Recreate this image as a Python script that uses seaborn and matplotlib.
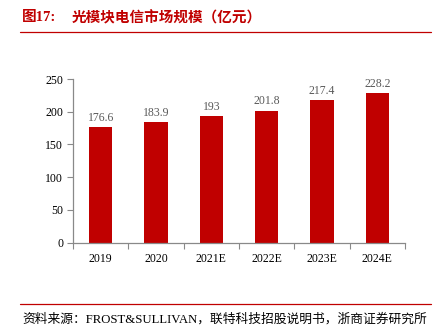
import matplotlib
matplotlib.use("Agg")
import matplotlib.pyplot as plt
import seaborn as sns
import pandas as pd
from matplotlib.lines import Line2D

years = ["2019", "2020", "2021E", "2022E", "2023E", "2024E"]
values = [176.6, 183.9, 193, 201.8, 217.4, 228.2]
value_labels = ["176.6", "183.9", "193", "201.8", "217.4", "228.2"]
yticks = [0, 50, 100, 150, 200, 250]

title_num = "图17:"
title_text = "光模块电信市场规模（亿元）"
source_text = "资料来源：FROST&SULLIVAN，联特科技招股说明书，浙商证券研究所"

sns.set_style("white")
plt.rcParams['font.family'] = ['Liberation Serif', 'Noto Sans CJK SC', 'DejaVu Sans']

df = pd.DataFrame({"year": years, "value": values})

fig = plt.figure(figsize=(4.4, 3.36), dpi=100)
ax = fig.add_axes([73/440, 1-242.7/336, (405-73)/440, (242.7-79)/336])

sns.barplot(data=df, x="year", y="value", color="#C00000", width=0.42, ax=ax,
            saturation=1, edgecolor="none")

ax.set_ylim(0, 250)
ax.set_xlim(-0.5, 5.5)
ax.set_yticks(yticks)
ax.set_yticklabels([str(t) for t in yticks])
ax.set_xlabel("")
ax.set_ylabel("")

for i, (v, lab) in enumerate(zip(values, value_labels)):
    ax.text(i, v + 5, lab, ha="center", va="bottom", fontsize=8.5, color="#595959",
            family=['Liberation Serif'])

for s in ["top", "right"]:
    ax.spines[s].set_visible(False)
for s in ["left", "bottom"]:
    ax.spines[s].set_color("#898989")
    ax.spines[s].set_linewidth(0.9)

ax.tick_params(axis="y", left=True, length=4, width=0.8, color="#898989",
               labelsize=8.5, labelcolor="#000000", direction="out", pad=3)
ax.tick_params(axis="x", bottom=False, labelsize=8.5, labelcolor="#000000", pad=4)
# minor ticks between categories
ax.set_xticks([-0.5 + k for k in range(7)], minor=True)
ax.tick_params(axis="x", which="minor", bottom=True, length=4, width=0.8,
               color="#898989", direction="out")

# header and footer
fig.text(22/440, 1-17/336, title_num, ha="left", va="center", fontsize=10.5,
         color="#C00000", fontweight="bold", family=['Liberation Serif', 'Noto Sans CJK SC'])
fig.text(72/440, 1-17/336, title_text, ha="left", va="center", fontsize=10.5,
         color="#C00000", fontweight="semibold", family=['Noto Sans CJK SC'])
fig.add_artist(Line2D([20/440, 431/440], [1-31.5/336, 1-31.5/336], color="#C00000", lw=0.9))
fig.add_artist(Line2D([20/440, 431/440], [1-304/336, 1-304/336], color="#C00000", lw=0.9))
fig.text(22/440, 1-319/336, source_text, ha="left", va="center", fontsize=9.2,
         color="#000000", family=['Liberation Serif', 'Noto Sans CJK SC'])

fig.savefig("out.png", dpi=100)
